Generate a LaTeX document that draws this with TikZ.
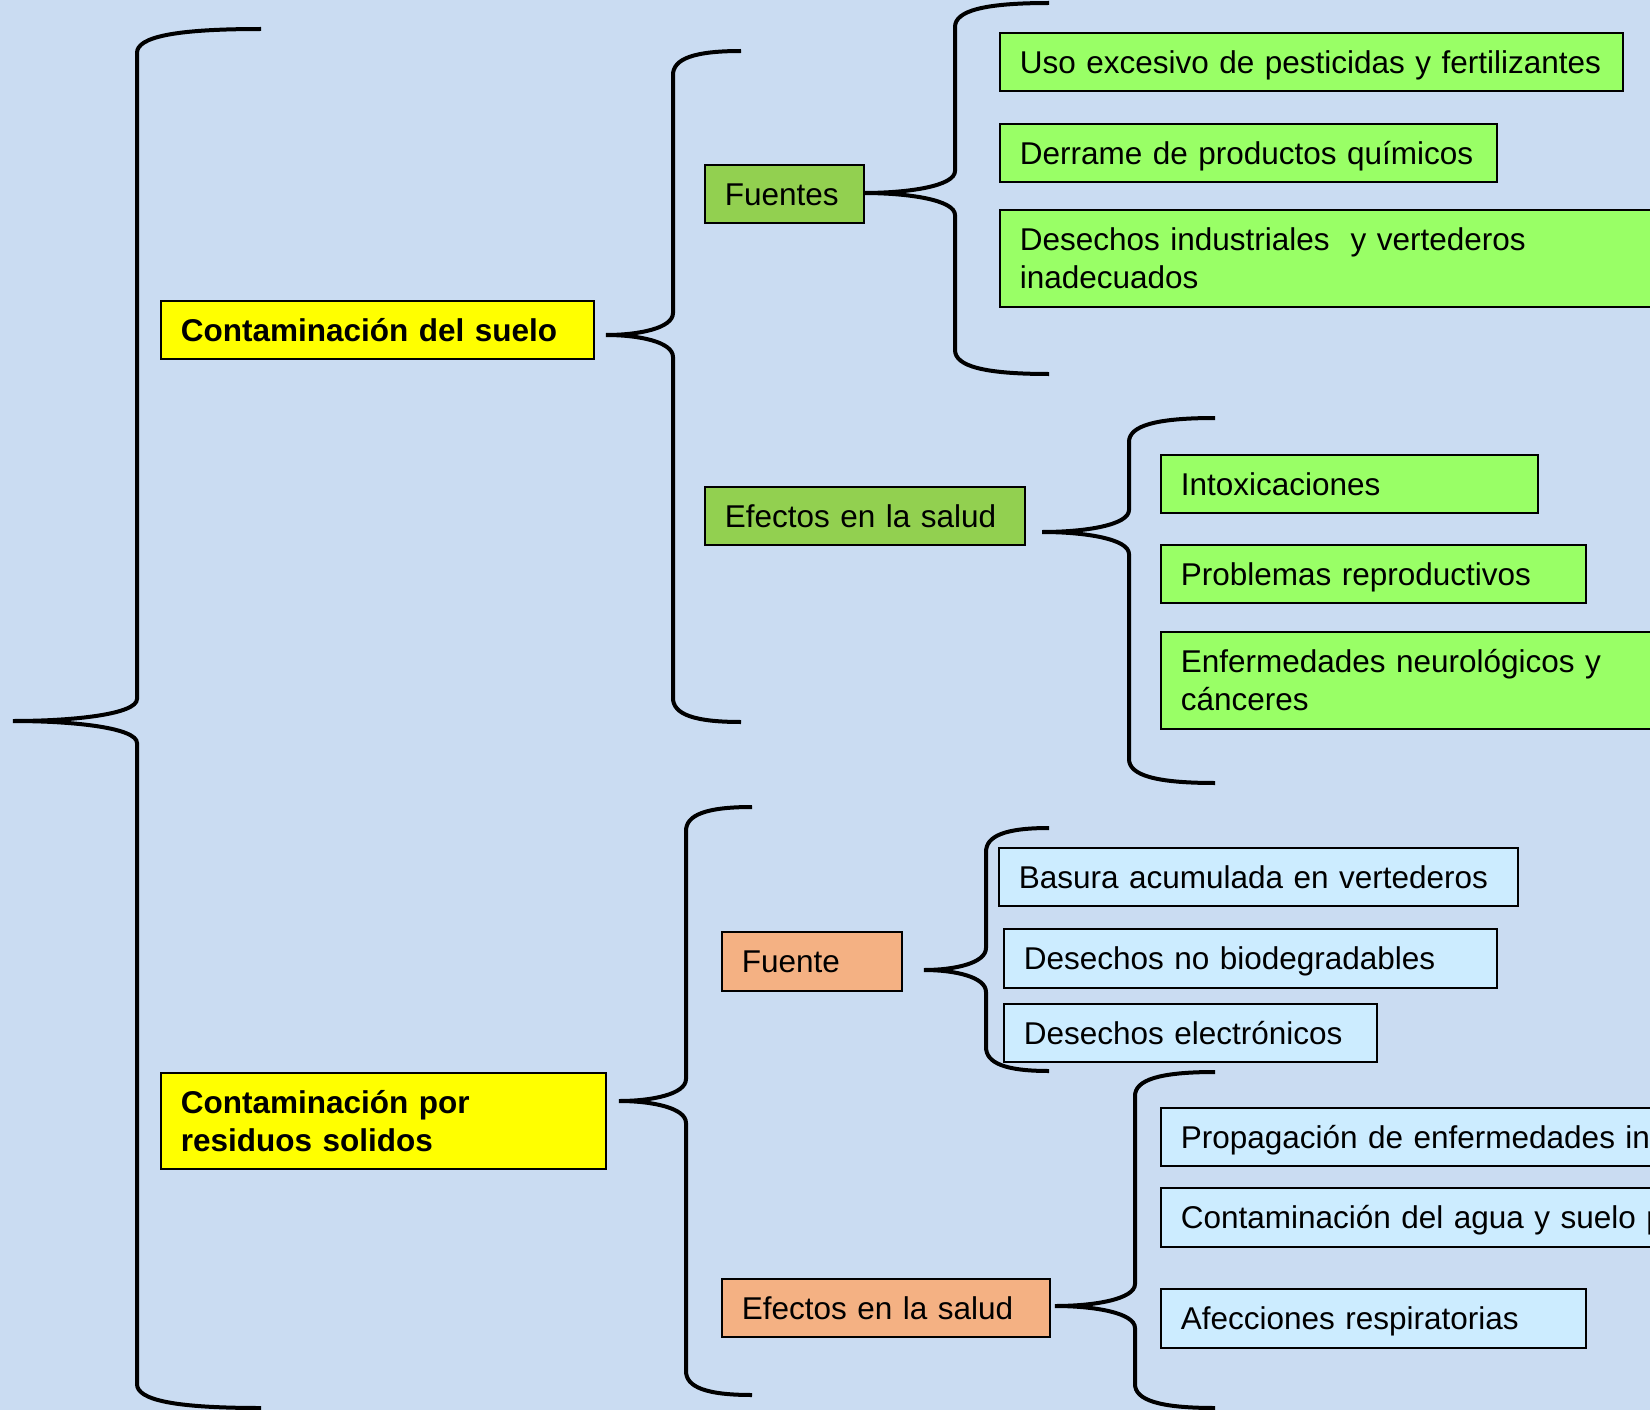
\documentclass[tikz,border=0pt]{standalone}
\usepackage{fontspec}
\setmainfont{Liberation Sans}
\definecolor{bgblue}{RGB}{202,220,242}
\definecolor{ylw}{RGB}{255,255,0}
\definecolor{leafgreen}{RGB}{153,255,102}
\definecolor{midgreen}{RGB}{146,208,80}
\definecolor{peach}{RGB}{244,177,131}
\definecolor{leafblue}{RGB}{204,236,255}
\newcommand{\cbrace}[6]{%
  \draw[bracestyle] (#4,#5) .. controls ({#3+0.3*(#4-#3)},#5) and (#3,{#5+8}) .. (#3,{#5+24})
    -- (#3,{#2-22}) .. controls (#3,{#2-7}) and ({#1+0.5*(#3-#1)},#2) .. (#1,#2)
    .. controls ({#1+0.5*(#3-#1)},#2) and (#3,{#2+7}) .. (#3,{#2+22})
    -- (#3,{#6-24}) .. controls (#3,{#6-8}) and ({#3+0.3*(#4-#3)},#6) .. (#4,#6);}
\tikzset{
  bracestyle/.style={draw=black, line width=4pt, line cap=butt},
  box/.style={draw=black, line width=1.6pt, anchor=north west, inner xsep=20pt, inner ysep=0pt,
    align=left, font=\fontsize{31.5}{38}\selectfont, text height=26pt, text depth=3pt},
  twoline/.style={text depth=41pt},
  title/.style={box, fill=ylw, font=\fontsize{31.5}{38}\selectfont\bfseries},
  lgreen/.style={box, fill=leafgreen},
  mgreen/.style={box, fill=midgreen},
  orng/.style={box, fill=peach},
  lblue/.style={box, fill=leafblue},
}
\begin{document}
\begin{tikzpicture}[x=1pt,y=-1pt]
\path[use as bounding box] (0,0) rectangle (1650,1410);
\clip (0,0) rectangle (1650,1410);
\fill[bgblue] (0,0) rectangle (1650,1410);

% braces
\cbrace{13}{721}{137}{261}{29}{1408}
\cbrace{606}{335}{673}{741}{51}{722}
\cbrace{863}{193}{955}{1049}{3}{374}
\cbrace{1042}{532}{1129}{1215}{418}{783}
\cbrace{619}{1101}{686}{752}{807}{1395}
\cbrace{924}{970}{986}{1049}{828}{1071}
\cbrace{1055}{1306}{1135}{1215}{1072}{1408}

% level 1
\node[title, text width=393pt, minimum height=58pt] (suelo) at (160,300) {\mbox{Contaminación del suelo}};
\node[title, twoline, text width=405pt, minimum height=96pt] (residuos) at (160,1072) {\mbox{Contaminación por}\\\mbox{residuos solidos}};

% level 2
\node[mgreen, text width=119pt, minimum height=58pt] (fuentes) at (704,164) {\mbox{Fuentes}};
\node[mgreen, text width=280pt, minimum height=58pt] (efectos1) at (704,486) {\mbox{Efectos en la salud}};
\node[orng, text width=140pt, minimum height=59pt] (fuente) at (721,931) {\mbox{Fuente}};
\node[orng, text width=288pt, minimum height=58pt] (efectos2) at (721,1278) {\mbox{Efectos en la salud}};

% level 3 (suelo)
\node[lgreen, text width=583pt, minimum height=58pt] (uso) at (999,32) {\mbox{Uso excesivo de pesticidas y fertilizantes}};
\node[lgreen, text width=457pt, minimum height=58pt] (derrame) at (999,123) {\mbox{Derrame de productos químicos}};
\node[lgreen, twoline, text width=660pt, minimum height=97pt] (desind) at (999,209) {\mbox{Desechos industriales\ \ y vertederos}\\\mbox{inadecuados}};
\node[lgreen, text width=337pt, minimum height=58pt] (intox) at (1160,454) {\mbox{Intoxicaciones}};
\node[lgreen, text width=385pt, minimum height=58pt] (reprod) at (1160,544) {\mbox{Problemas reproductivos}};
\node[lgreen, twoline, text width=560pt, minimum height=97pt] (neuro) at (1160,631) {\mbox{Enfermedades neurológicos y}\\\mbox{cánceres}};

% level 3 (residuos)
\node[lblue, text width=479pt, minimum height=58pt] (basura) at (998,847) {\mbox{Basura acumulada en vertederos}};
\node[lblue, text width=453pt, minimum height=59pt] (nobio) at (1003,928) {\mbox{Desechos no biodegradables}};
\node[lblue, text width=333pt, minimum height=58pt] (electr) at (1003,1003) {\mbox{Desechos electrónicos}};
\node[lblue, text width=560pt, minimum height=58pt] (propag) at (1160,1107) {\mbox{Propagación de enfermedades in}};
\node[lblue, text width=560pt, minimum height=59pt] (aguasuelo) at (1160,1187) {\mbox{Contaminación del agua y suelo p}};
\node[lblue, text width=385pt, minimum height=59pt] (afecc) at (1160,1288) {\mbox{Afecciones respiratorias}};
\end{tikzpicture}
\end{document}
